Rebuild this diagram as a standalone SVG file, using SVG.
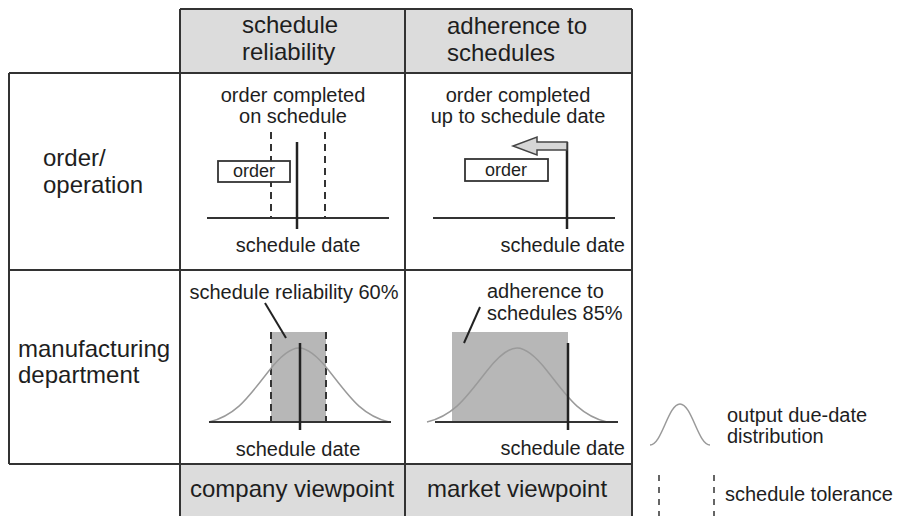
<svg xmlns="http://www.w3.org/2000/svg" xmlns:xlink="http://www.w3.org/1999/xlink" width="897" height="516" viewBox="0 0 897 516">
<style>
text{font-family:"Liberation Sans",Arial,sans-serif;fill:#1e1e1e}
.h{font-size:24px}
.c{font-size:20px}
.o{font-size:18px}
.mid{text-anchor:middle}
.end{text-anchor:end}
.grid{stroke:#333;stroke-width:2;fill:none}
.ax{stroke:#333;stroke-width:2;fill:none}
.sd{stroke:#222;stroke-width:2.5;fill:none}
.dash{stroke:#333;stroke-width:2;stroke-dasharray:7 5;fill:none}
.bell{stroke:#9a9a9a;stroke-width:1.5;fill:none}
.hdr{fill:#dcdcdc}
.band{fill:#b7b7b7}
.box{fill:#fff;stroke:#333;stroke-width:1.8}
</style>
<defs>
<path id="bell" d="M -90 0 C -80 -2.4 -70 -7 -60 -15.9 C -50 -24.8 -40 -38.6 -30 -51.3 C -20 -64 -10 -74 0 -74 C 10 -74 20 -64 30 -51.3 C 40 -38.6 50 -24.8 60 -15.9 C 70 -7 80 -2.4 90 0"/>
</defs>
<rect width="897" height="516" fill="#fff"/>

<g id="header-reliability">
<rect class="hdr" x="180" y="9" width="225" height="64"/>
<text class="h" x="242" y="33">schedule</text>
<text class="h" x="242" y="60">reliability</text>
</g>
<g id="header-adherence">
<rect class="hdr" x="405" y="9" width="227" height="64"/>
<text class="h" x="447" y="34">adherence to</text>
<text class="h" x="447" y="61">schedules</text>
</g>
<g id="footer-company">
<rect class="hdr" x="180" y="464" width="225" height="52"/>
<text class="h" x="190" y="497">company viewpoint</text>
</g>
<g id="footer-market">
<rect class="hdr" x="405" y="464" width="227" height="52"/>
<text class="h" x="427" y="497">market viewpoint</text>
</g>

<g id="row-order">
<text class="h" x="43" y="166">order/</text>
<text class="h" x="43" y="193">operation</text>
</g>
<g id="row-department">
<text class="h" x="18" y="357">manufacturing</text>
<text class="h" x="18" y="383">department</text>
</g>

<g id="grid">
<path class="grid" d="M180 9 H632 M9 73 H632 M9 270 H632 M9 464 H632 M9 73 V464 M180 9 V516 M405 9 V516 M632 9 V516"/>
</g>

<g id="cell-order-reliability">
<text class="c mid" x="293" y="102">order completed</text>
<text class="c mid" x="293" y="123">on schedule</text>
<line class="dash" x1="271" y1="132" x2="271" y2="218"/>
<line class="dash" x1="325" y1="132" x2="325" y2="218"/>
<rect class="box" x="218" y="161" width="72" height="21"/>
<text class="o mid" x="254" y="177">order</text>
<line class="ax" x1="207" y1="218" x2="389" y2="218"/>
<line class="sd" x1="297" y1="142" x2="297" y2="229"/>
<text class="c mid" x="298" y="252">schedule date</text>
</g>

<g id="cell-order-adherence">
<text class="c mid" x="518" y="102">order completed</text>
<text class="c mid" x="518" y="123">up to schedule date</text>
<rect class="box" x="465" y="159" width="83" height="22"/>
<text class="o mid" x="506" y="176">order</text>
<line class="ax" x1="433" y1="218" x2="615" y2="218"/>
<line class="sd" x1="567" y1="142" x2="567" y2="229"/>
<polygon points="567,142 537,142 537,137 513,146 537,155 537,150 567,150" fill="#d6d6d6" stroke="#444" stroke-width="1.5" stroke-linejoin="miter"/>
<text class="c end" x="625" y="252">schedule date</text>
</g>

<g id="cell-dept-reliability">
<text class="c mid" x="294" y="299">schedule reliability 60%</text>
<rect class="band" x="271" y="332" width="55" height="90"/>
<line class="dash" x1="271" y1="332" x2="271" y2="422"/>
<line class="dash" x1="326" y1="332" x2="326" y2="422"/>
<use xlink:href="#bell" href="#bell" class="bell" transform="translate(299,422)"/>
<line class="ax" x1="209" y1="422" x2="391" y2="422"/>
<line class="sd" x1="300" y1="343" x2="300" y2="430"/>
<text class="c mid" x="298" y="456">schedule date</text>
</g>

<g id="cell-dept-adherence">
<text class="c" x="487" y="298">adherence to</text>
<text class="c" x="487" y="320">schedules 85%</text>
<rect class="band" x="452" y="332" width="116" height="90"/>
<use xlink:href="#bell" href="#bell" class="bell" transform="translate(517,422)"/>
<line class="ax" x1="435" y1="422" x2="618" y2="422"/>
<line class="sd" x1="568" y1="343" x2="568" y2="430"/>
<text class="c end" x="625" y="455">schedule date</text>
</g>

<g id="connectors">
<line x1="265" y1="303" x2="286" y2="338" stroke="#222" stroke-width="2"/>
<line x1="480" y1="307" x2="464" y2="343" stroke="#222" stroke-width="2"/>
</g>

<g id="legend-distribution">
<path d="M650 445 C 662 445 668 404 680 404 C 692 404 698 445 710 445" class="bell"/>
<text class="c" x="727" y="422">output due-date</text>
<text class="c" x="727" y="443">distribution</text>
</g>
<g id="legend-tolerance">
<line x1="659" y1="475" x2="659" y2="516" stroke="#333" stroke-width="1.5" stroke-dasharray="6 6"/>
<line x1="714" y1="475" x2="714" y2="516" stroke="#333" stroke-width="1.5" stroke-dasharray="6 6"/>
<text class="c" x="725" y="501">schedule tolerance</text>
</g>
</svg>
